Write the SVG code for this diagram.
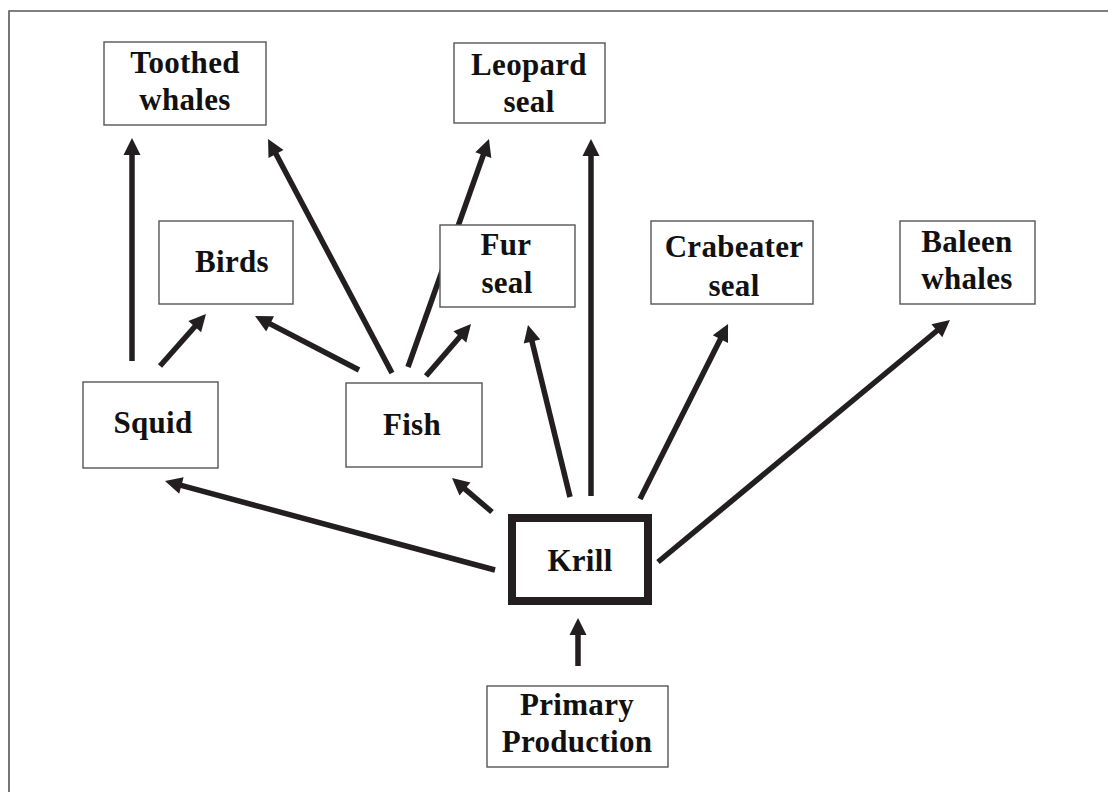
<svg xmlns="http://www.w3.org/2000/svg" width="1108" height="792" viewBox="0 0 1108 792">
<style>
.box{fill:#fff;stroke:#555;stroke-width:1.4}
.krill{fill:#fff;stroke:#231f20;stroke-width:8}
.lbl{font-family:"Liberation Serif","Times New Roman",serif;font-weight:bold;font-size:31px;letter-spacing:0.3px;fill:#111;text-anchor:middle}
.arr{stroke:#231f20;stroke-width:5.5;fill:none;marker-end:url(#ah)}
.frame{stroke:#555;stroke-width:1.6;fill:none}
</style>
<defs>
<marker id="ah" markerUnits="userSpaceOnUse" markerWidth="17" markerHeight="17" refX="6" refY="8.5" orient="auto" overflow="visible">
<path d="M0,0 L17,8.5 L0,17 z" fill="#231f20"/>
</marker>
</defs>
<rect width="1108" height="792" fill="#fff"/>
<path class="frame" d="M9,792 L9,11 L1108,11"/>
<g id="connectors">
<line class="arr" x1="132" y1="361" x2="132" y2="149"/>
<line class="arr" x1="392" y1="373" x2="273.2" y2="148.7"/>
<line class="arr" x1="160" y1="366" x2="198.7" y2="322.2"/>
<line class="arr" x1="359" y1="370" x2="264.8" y2="321.1"/>
<line class="arr" x1="408" y1="367" x2="485.3" y2="149.4"/>
<line class="arr" x1="426" y1="376" x2="463.8" y2="332.3"/>
<line class="arr" x1="591" y1="496" x2="591" y2="150"/>
<line class="arr" x1="570" y1="497" x2="530.6" y2="335.7"/>
<line class="arr" x1="640" y1="499" x2="723.1" y2="333.8"/>
<line class="arr" x1="658" y1="562" x2="941.5" y2="327"/>
<line class="arr" x1="495" y1="570" x2="175.6" y2="483.9"/>
<line class="arr" x1="492" y1="512" x2="460.4" y2="485.2"/>
<line class="arr" x1="578" y1="666" x2="578" y2="629"/>
</g>
<g id="toothed-whales">
<rect class="box" x="104" y="42" width="162" height="83"/>
<text class="lbl" x="185" y="73">Toothed</text>
<text class="lbl" x="185" y="110">whales</text>
</g>
<g id="leopard-seal">
<rect class="box" x="454" y="43" width="151" height="80"/>
<text class="lbl" x="529" y="75">Leopard</text>
<text class="lbl" x="529" y="112">seal</text>
</g>
<g id="birds">
<rect class="box" x="159" y="221" width="134" height="83"/>
<text class="lbl" x="232" y="272">Birds</text>
</g>
<g id="fur-seal">
<rect class="box" x="440" y="225" width="135" height="82"/>
<text class="lbl" x="506" y="255">Fur</text>
<text class="lbl" x="507" y="293">seal</text>
</g>
<g id="crabeater-seal">
<rect class="box" x="651" y="221" width="162" height="83"/>
<text class="lbl" x="734" y="257">Crabeater</text>
<text class="lbl" x="734" y="296">seal</text>
</g>
<g id="baleen-whales">
<rect class="box" x="900" y="221" width="135" height="83"/>
<text class="lbl" x="967" y="252">Baleen</text>
<text class="lbl" x="967" y="289">whales</text>
</g>
<g id="squid">
<rect class="box" x="83" y="382" width="135" height="86"/>
<text class="lbl" x="153" y="433">Squid</text>
</g>
<g id="fish">
<rect class="box" x="346" y="383" width="136" height="84"/>
<text class="lbl" x="412" y="435">Fish</text>
</g>
<g id="krill">
<rect class="krill" x="512" y="518" width="136" height="83"/>
<text class="lbl" x="580" y="571">Krill</text>
</g>
<g id="primary-production">
<rect class="box" x="487" y="686" width="181" height="81"/>
<text class="lbl" x="577" y="715">Primary</text>
<text class="lbl" x="577" y="752">Production</text>
</g>
</svg>
